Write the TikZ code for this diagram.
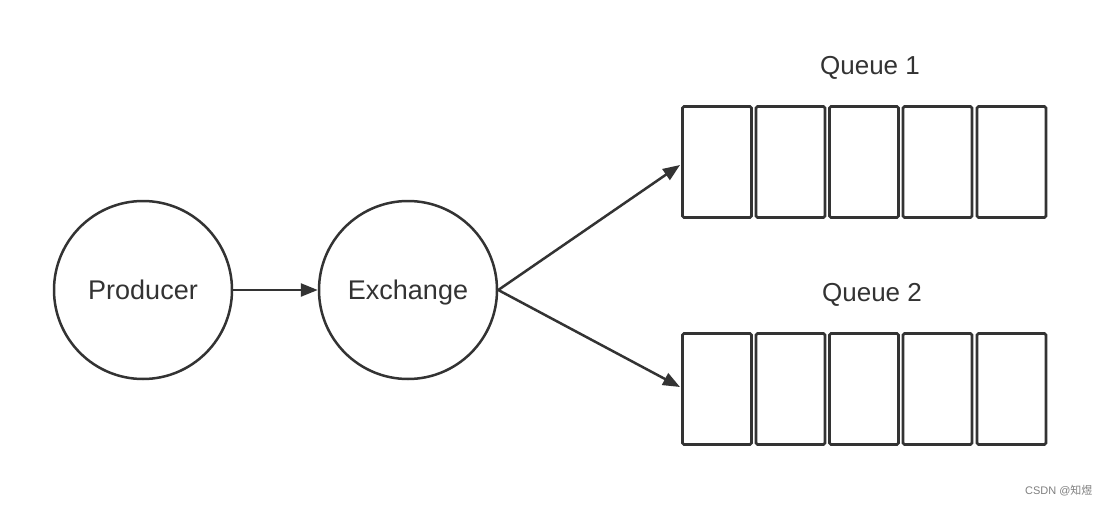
\documentclass[tikz,border=0pt]{standalone}
\usepackage{fontspec}
\setmainfont{Liberation Sans}
\newfontfamily\cjkfont{Noto Sans CJK SC}
\usetikzlibrary{arrows.meta}
\definecolor{ink}{HTML}{333333}
\tikzset{
  proc/.style={circle, draw=ink, line width=2.5pt, minimum size=178pt, inner sep=0pt, text=ink, text depth=0pt, font=\fontsize{27}{30}\selectfont},
  cell/.style={draw=ink, line width=2.8pt, rounded corners=1.5pt, minimum width=69pt, minimum height=111pt, inner sep=0pt},
  qlabel/.style={text=ink, font=\fontsize{26}{30}\selectfont},
  flow/.style={draw=ink, line width=2.5pt, -{Triangle[length=17pt,width=13pt]}},
  wm/.style={text=black!50, font=\fontsize{11}{13}\selectfont}
}
\begin{document}
\begin{tikzpicture}[x=1pt,y=-1pt]
\useasboundingbox (0,0) rectangle (1108,506);
\fill[white] (0,0) rectangle (1108,506);
\node[proc] (prod) at (143,290) {Producer};
\node[proc] (exch) at (408,290) {Exchange};
% Queue 1
\node[cell] (a1) at (717,162) {};
\node[cell] (a2) at (790.5,162) {};
\node[cell] (a3) at (864,162) {};
\node[cell] (a4) at (937.5,162) {};
\node[cell] (a5) at (1011.5,162) {};
\node[qlabel] (q1) at (870,68) {Queue 1};
% Queue 2
\node[cell] (b1) at (717,389) {};
\node[cell] (b2) at (790.5,389) {};
\node[cell] (b3) at (864,389) {};
\node[cell] (b4) at (937.5,389) {};
\node[cell] (b5) at (1011.5,389) {};
\node[qlabel] (q2) at (872,295) {Queue 2};
% connectors
\coordinate (t1) at (680,165);
\coordinate (t2) at (680,387);
\draw[flow] (prod.east) -- (exch.west);
\draw[flow] (exch.east) -- (t1);
\draw[flow] (exch.east) -- (t2);
\node[wm, anchor=east] (wmk) at (1096,491) {CSDN @{\cjkfont 知煜}};
\end{tikzpicture}
\end{document}
